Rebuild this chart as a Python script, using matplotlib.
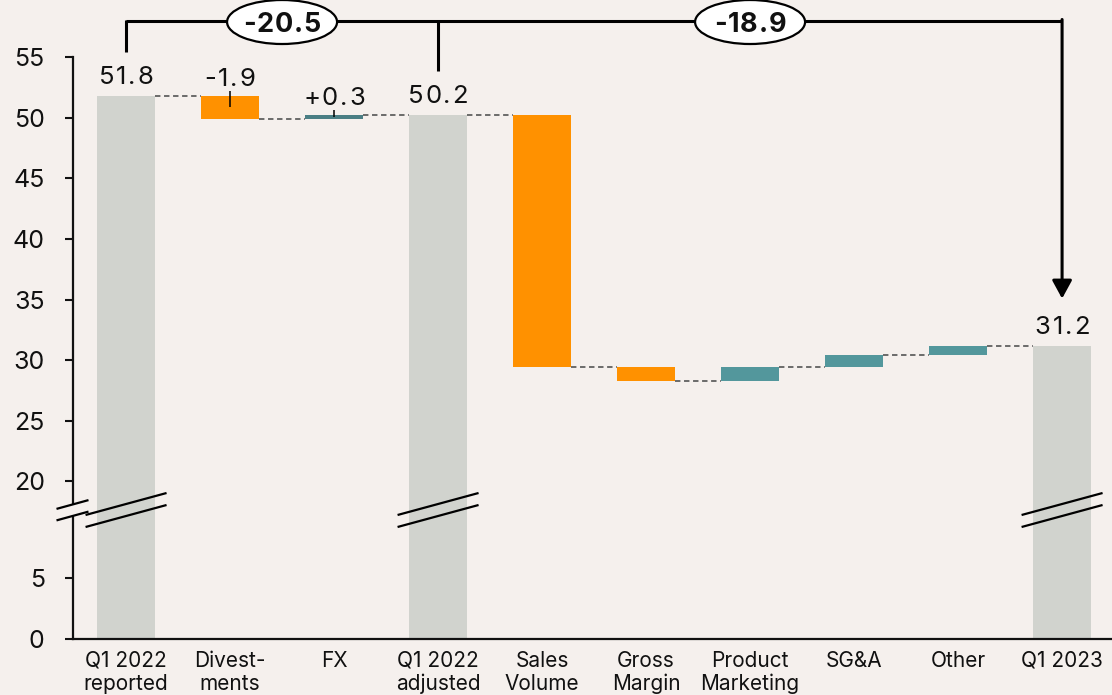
import numpy as np
import matplotlib
matplotlib.use("Agg")
import matplotlib.pyplot as plt
from matplotlib.transforms import IdentityTransform
from matplotlib.patches import Ellipse
from matplotlib.lines import Line2D
from matplotlib import font_manager, ft2font

# ---------------- data ----------------
categories = ["Q1 2022\nreported", "Divest-\nments", "FX", "Q1 2022\nadjusted",
              "Sales\nVolume", "Gross\nMargin", "Product\nMarketing", "SG&A",
              "Other", "Q1 2023"]
kinds = ["total", "delta", "delta", "total", "delta", "delta", "delta",
         "delta", "delta", "total"]
values = [51.8, -1.9, 0.3, 50.2, -20.8, -1.1, 1.1, 1.0, 0.8, 31.2]
value_labels = ["51.8", "-1.9", "+0.3", "50.2", "", "", "", "", "", "31.2"]
bracket_points = [0, 3, 9]
bracket_labels = ["-20.5", "-18.9"]
yticks = [0, 5, 20, 25, 30, 35, 40, 45, 50, 55]
break_low, break_high, break_span = 5, 20, 8   # axis break: 5..20 squeezed to 8 units

# ---------------- style ----------------
BG = "#F5F0ED"
GRAY = "#D1D3CE"
ORANGE = "#FF9100"
TEAL = "#53979C"
TEAL_DARK = "#4A7E84"
INK = "#111111"
bar_colors = [GRAY, ORANGE, TEAL_DARK, GRAY, ORANGE, ORANGE, TEAL, TEAL, TEAL, GRAY]
plt.rcParams["font.family"] = ["Inter", "DejaVu Sans"]

def fwd(v):
    v = np.asarray(v, dtype=float)
    k = break_span / (break_high - break_low)
    return np.where(v <= break_low, v,
                    np.where(v >= break_high, v - (break_high - break_low - break_span),
                             break_low + (v - break_low) * k))

def inv(y):
    y = np.asarray(y, dtype=float)
    k = break_span / (break_high - break_low)
    top = break_low + break_span
    return np.where(y <= break_low, y,
                    np.where(y >= top, y + (break_high - break_low - break_span),
                             break_low + (y - break_low) / k))

W, H = 1112, 695
DPI = 100
fig = plt.figure(figsize=(W / DPI, H / DPI), dpi=DPI, facecolor=BG)
ax = fig.add_axes([72.5 / W, 56 / H, (W - 72.5) / W, 582 / H], facecolor=BG)
ax.set_yscale("function", functions=(fwd, inv))
ax.set_ylim(0, 55)
ax.set_xlim(-0.515, 9.48)

bw = 0.558
x = np.arange(len(categories))

# bars
levels = []
level = 0.0
for i, (k, v) in enumerate(zip(kinds, values)):
    if k == "total":
        ax.bar(i, v, bottom=0, width=bw, color=bar_colors[i], zorder=2)
        level = v
        levels.append((0, v, v))
    else:
        start, end = level, level + v
        ax.bar(i, abs(v), bottom=min(start, end), width=bw,
               color=bar_colors[i], zorder=2)
        level = end
        levels.append((start, end, max(start, end)))

# connectors
for i in range(len(categories) - 1):
    lv = levels[i][1]
    ax.plot([i + bw / 2, i + 1 - bw / 2], [lv, lv], ls=(0, (3, 2)),
            color="#606060", lw=1.3, zorder=1)

# spines & ticks
for s in ["top", "right", "left"]:
    ax.spines[s].set_visible(False)
ax.spines["bottom"].set_linewidth(1.6)
ax.spines["bottom"].set_color(INK)
ax.set_yticks(yticks)
ax.set_yticklabels([str(t) for t in yticks], fontsize=18, color=INK)
ax.yaxis.set_minor_locator(matplotlib.ticker.NullLocator())
ax.tick_params(axis="y", length=6, width=1.5, color=INK, pad=14)
ax.set_xticks(x)
ax.set_xticklabels(categories, fontsize=15, color=INK, linespacing=1.18)
ax.tick_params(axis="x", length=0, pad=8.5)

# manual left spine with gap
gap_lo, gap_hi = (639 - 517) / 582, (639 - 503) / 582
for y0, y1 in [(0, gap_lo), (gap_hi, 1)]:
    ax.add_line(Line2D([0, 0], [y0, y1], transform=ax.transAxes, color=INK,
                       lw=1.6, clip_on=False, zorder=5))

fig.canvas.draw()
T = ax.transData
ID = IdentityTransform()

def seg(p0, p1, lw=1.5, z=6):
    fig.add_artist(Line2D([p0[0], p1[0]], [p0[1], p1[1]], transform=ID,
                          color="black", lw=lw, zorder=z, solid_capstyle="butt"))

def spaced_text(cx, y, s, size, weight="normal", spacing=3.0, va="baseline", z=10):
    """Draw text centred at cx (display px) with extra letter spacing."""
    path = font_manager.findfont(font_manager.FontProperties(family="Inter", weight=weight))
    f = ft2font.FT2Font(path)
    f.set_size(size, DPI)
    adv = [f.load_char(ord(c)).linearHoriAdvance / 65536.0 for c in s]
    total = sum(adv) + spacing * (len(s) - 1)
    pos = cx - total / 2
    for c, a in zip(s, adv):
        fig.text(pos + a / 2, y, c, transform=ID, ha="center", va=va,
                 fontsize=size, fontweight=weight, color=INK, zorder=z)
        pos += a + spacing

# break marks
brk_y = ax.transAxes.transform((0, (639 - 510) / 582))[1]
for i, k in enumerate(kinds):
    if k == "total":
        cx = T.transform((i, 0))[0]
        for off in (6, -6):
            seg((cx - 40.5, brk_y + off - 11), (cx + 40.5, brk_y + off + 11), lw=1.6)
ax_x0 = ax.transAxes.transform((0, 0))[0]
for off in (5.5, -6):
    seg((ax_x0 - 16, brk_y + off - 4.4), (ax_x0 + 16, brk_y + off + 4.4), lw=1.6)

# value labels
for i, (k, lab) in enumerate(zip(kinds, value_labels)):
    if not lab:
        continue
    start, end, top = levels[i]
    gap = 12 if k == "total" else 10
    cx, ty = T.transform((i, top))
    spaced_text(cx, ty + gap, lab, 18.5, spacing=1.8)
    if k == "delta":
        cy = T.transform((i, (start + end) / 2))[1]
        seg((cx, ty + 5), (cx, cy), lw=1.1)

# bracket
by = ax.transAxes.transform((0, 1.0627))[1]
xs = [T.transform((p, 0))[0] for p in bracket_points]
seg((xs[0], by), (xs[-1], by), lw=2.2, z=8)
for p, xp in zip(bracket_points[:-1], xs[:-1]):
    ty = T.transform((p, levels[p][2]))[1]
    seg((xp, by + 1), (xp, ty + 44), lw=2.2, z=8)
p = bracket_points[-1]
ty = T.transform((p, levels[p][2]))[1]
ax.annotate("", xy=(xs[-1], ty + 47), xycoords="figure pixels",
            xytext=(xs[-1], by + 1), textcoords="figure pixels",
            arrowprops=dict(arrowstyle="-|>,head_length=0.55,head_width=0.3",
                            color="black", lw=2.2, shrinkA=0, shrinkB=0,
                            mutation_scale=20), annotation_clip=False)
for j, lab in enumerate(bracket_labels):
    mid = (bracket_points[j] + bracket_points[j + 1]) / 2
    mx = T.transform((mid, 0))[0]
    e = Ellipse((mx, by - 1.5), 110, 44, transform=ID, facecolor="white",
                edgecolor="black", lw=1.6, zorder=9)
    fig.add_artist(e)
    spaced_text(mx, by - 1.5, lab, 19.5, weight="bold", spacing=0.8,
                va="center_baseline", z=11)

fig.savefig("out.png", dpi=DPI, facecolor=BG)
